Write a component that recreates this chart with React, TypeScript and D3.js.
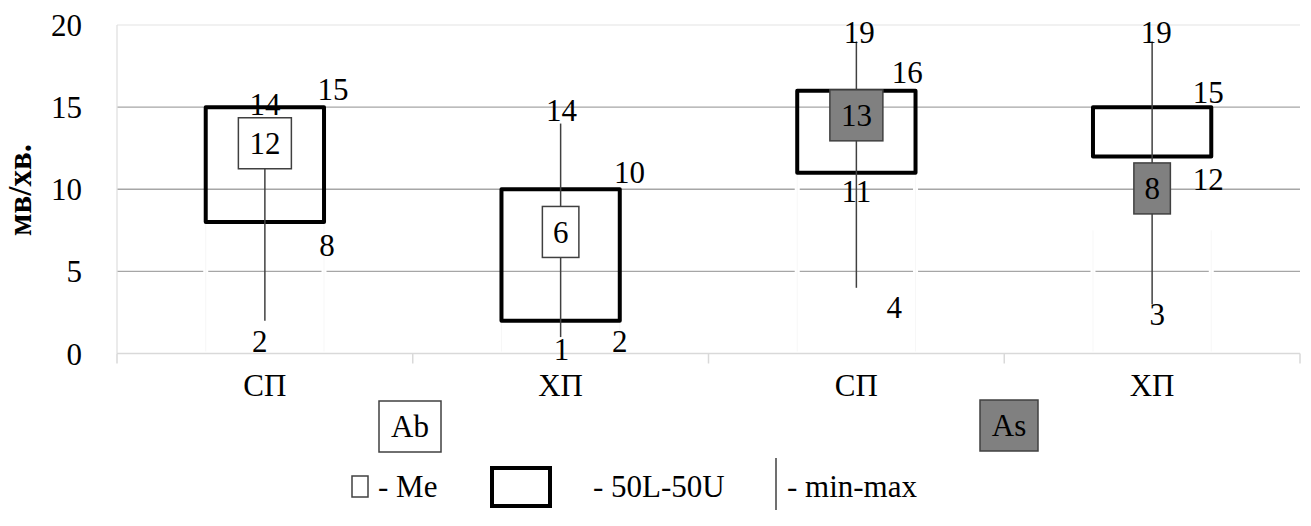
import React from "react";
import * as d3 from "d3";

const categories = ["СП", "ХП", "СП", "ХП"];
const groups = ["Ab", "Ab", "As", "As"];
const minValues = [2, 1, 4, 3];
const maxValues = [14, 14, 19, 19];
const lowerQuartile = [8, 2, 11, 12];
const upperQuartile = [15, 10, 16, 15];
const medians = [12, 6, 13, 8];
const medianMarkerCenter = [12.8, 7.4, 14.5, 10.05];
const hiddenBarTop = [8, 2, 11, 7.5];
const yTicks = [0, 5, 10, 15, 20];

// value labels: [category index, text, x offset (fraction of band), baseline value]
const valueLabels: [number, string, number, number][] = [
  [0, "14", 0, 14.5],
  [0, "15", 0.23, 15.45],
  [0, "8", 0.21, 5.95],
  [0, "2", -0.017, 0.1],
  [1, "14", 0.003, 14.15],
  [1, "10", 0.233, 10.4],
  [1, "2", 0.2, 0.1],
  [1, "1", 0.003, -0.4],
  [2, "19", 0.01, 18.9],
  [2, "16", 0.172, 16.47],
  [2, "11", 0, 9.2],
  [2, "4", 0.128, 2.15],
  [3, "19", 0.014, 18.9],
  [3, "15", 0.19, 15.25],
  [3, "12", 0.19, 9.95],
  [3, "3", 0.017, 1.75],
];

const groupFill: Record<string, string> = { Ab: "#ffffff", As: "#808080" };

const FONT = '"Liberation Serif", Tinos, "Times New Roman", "Nimbus Roman", FreeSerif, "DejaVu Serif", serif';
const W = 1311;
const H = 526;

export default function App() {
  const left = 117;
  const right = 1300;
  const top = 25;
  const bottom = 353.5;

  const x = d3
    .scaleBand<number>()
    .domain(categories.map((_, i) => i))
    .range([left, right])
    .paddingInner(0)
    .paddingOuter(0);
  const y = d3.scaleLinear().domain([0, 20]).range([bottom, top]);
  const bw = x.bandwidth();
  const boxW = bw * 0.4;
  const cx = (i: number) => (x(i) as number) + bw / 2;
  const fs = 31;
  const ts = { fontFamily: FONT } as React.CSSProperties;

  return (
    <svg
      width={W}
      height={H}
      style={{ position: "absolute", left: 0, top: 0, background: "#fff", fontFamily: FONT }}
    >
      {/* gridlines */}
      {yTicks.slice(1).map((t) => (
        <line
          key={"g" + t}
          x1={left}
          x2={right}
          y1={y(t)}
          y2={y(t)}
          stroke={t === 20 ? "#ececec" : "#a6a6a6"}
          strokeWidth={1.3}
        />
      ))}
      {/* left axis faint line */}
      <line x1={left} x2={left} y1={y(20)} y2={y(0)} stroke="#e0e0e0" strokeWidth={1.3} />
      {/* bottom axis */}
      <line x1={left} x2={right} y1={y(0)} y2={y(0)} stroke="#d9d9d9" strokeWidth={1.5} />
      {d3.range(categories.length + 1).map((i) => {
        const xx = i < categories.length ? (x(i) as number) : right;
        return (
          <line key={"t" + i} x1={xx} x2={xx} y1={y(0)} y2={y(0) + 10} stroke="#d9d9d9" strokeWidth={1.5} />
        );
      })}
      {/* hidden bar edges */}
      {hiddenBarTop.map((v, i) =>
        [cx(i) - boxW / 2, cx(i) + boxW / 2].map((xx, k) => (
          <g key={"h" + i + k}>
            <line x1={xx} x2={xx} y1={y(v)} y2={y(0) - 2} stroke="#ffffff" strokeWidth={5} />
            <line x1={xx} x2={xx} y1={y(v)} y2={y(0) - 2} stroke="#f7f7f7" strokeWidth={1} />
          </g>
        ))
      )}
      {/* y tick labels */}
      {yTicks.map((t) => (
        <text key={"yl" + t} x={82} y={y(t)} dy={11} textAnchor="end" fontSize={fs} fill="#000" style={ts}>
          {t}
        </text>
      ))}
      {/* y title */}
      <text
        transform={`translate(31,190) rotate(-90)`}
        textAnchor="middle"
        fontSize={33}
        fontWeight="bold"
        fill="#000"
        style={ts}
      >
        мв/хв.
      </text>
      {/* category labels */}
      {categories.map((c, i) => (
        <text key={"c" + i} x={cx(i)} y={396} textAnchor="middle" fontSize={fs} fill="#000" style={ts}>
          {c}
        </text>
      ))}
      {/* quartile boxes */}
      {categories.map((_, i) => (
        <rect
          key={"b" + i}
          x={cx(i) - boxW / 2}
          y={y(upperQuartile[i])}
          width={boxW}
          height={y(lowerQuartile[i]) - y(upperQuartile[i])}
          fill="none"
          stroke="#000"
          strokeWidth={4}
          strokeLinejoin="round"
        />
      ))}
      {/* whiskers */}
      {categories.map((_, i) => (
        <line
          key={"w" + i}
          x1={cx(i)}
          x2={cx(i)}
          y1={y(minValues[i])}
          y2={y(maxValues[i])}
          stroke="#404040"
          strokeWidth={1.5}
        />
      ))}
      {/* median markers */}
      {categories.map((_, i) => {
        const label = String(medians[i]);
        const mw = label.length * 16.5 + 20;
        const mh = 51;
        const yc = y(medianMarkerCenter[i]);
        return (
          <g key={"m" + i}>
            <rect
              x={cx(i) - mw / 2}
              y={yc - mh / 2}
              width={mw}
              height={mh}
              fill={groupFill[groups[i]]}
              stroke="#404040"
              strokeWidth={1.5}
            />
            <text x={cx(i)} y={yc} dy={11} textAnchor="middle" fontSize={fs} fill="#000" style={ts}>
              {label}
            </text>
          </g>
        );
      })}
      {/* value labels */}
      {valueLabels.map(([i, t, dx, v], k) => (
        <text key={"v" + k} x={cx(i) + dx * bw} y={y(v)} textAnchor="middle" fontSize={fs} fill="#000" style={ts}>
          {t}
        </text>
      ))}
      {/* group tags */}
      <rect x={379} y={401} width={62} height={51} fill={groupFill.Ab} stroke="#404040" strokeWidth={1.5} />
      <text x={410} y={437} textAnchor="middle" fontSize={fs} fill="#000" style={ts}>
        Ab
      </text>
      <rect x={980} y={400} width={58} height={51} fill={groupFill.As} stroke="#404040" strokeWidth={1.5} />
      <text x={1009} y={436} textAnchor="middle" fontSize={fs} fill="#000" style={ts}>
        As
      </text>
      {/* legend */}
      <rect x={352} y={476} width={16} height={21} fill="#fff" stroke="#404040" strokeWidth={1.5} />
      <text x={378} y={497} fontSize={fs} fill="#000" style={ts}>
        - Me
      </text>
      <rect x={492} y={468} width={58} height={38} fill="#fff" stroke="#000" strokeWidth={4} />
      <text x={593} y={497} fontSize={fs} fill="#000" style={ts}>
        - 50L-50U
      </text>
      <line x1={776} x2={776} y1={458} y2={510} stroke="#404040" strokeWidth={1.5} />
      <text x={787} y={497} fontSize={fs} fill="#000" style={ts}>
        - min-max
      </text>
    </svg>
  );
}
